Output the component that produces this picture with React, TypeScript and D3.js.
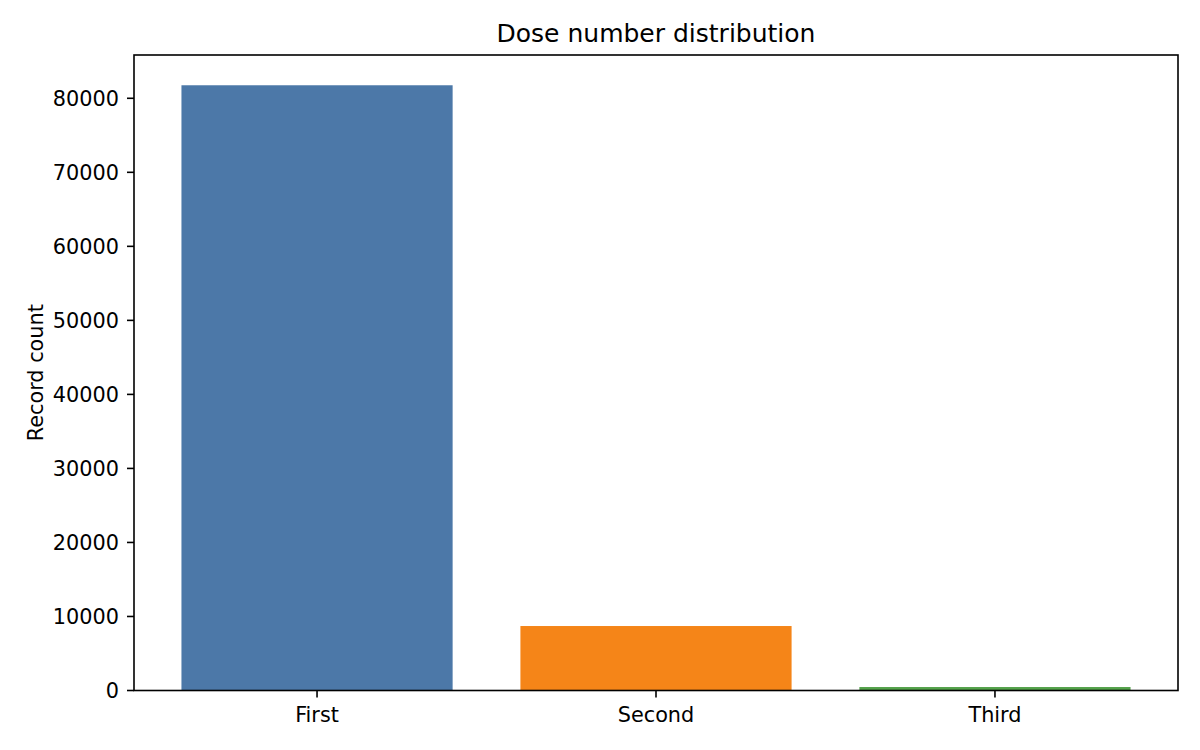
import React from "react";
import * as d3 from "d3";

const categories = ["First", "Second", "Third"];
const counts = [81760, 8710, 470];
const colors = ["#4c78a8", "#f58518", "#54a24b"];
const yTicks = [0, 10000, 20000, 30000, 40000, 50000, 60000, 70000, 80000];

export default function App() {
  const W = 1200, H = 750;
  const left = 134, right = 1178, top = 55, bottom = 690.5;
  const x = d3.scaleBand<string>().domain(categories).range([left, right]).paddingInner(0.2).paddingOuter(0.14);
  const yMax = (d3.max(counts) as number) * 1.05;
  const y = d3.scaleLinear().domain([0, yMax]).range([bottom, top]);
  const font = "'DejaVu Sans', sans-serif";
  const sw = 1.6;
  return (
    <svg width={W} height={H} style={{ position: "absolute", left: 0, top: 0, background: "#fff" }} fontFamily={font}>
      <rect x={0} y={0} width={W} height={H} fill="#fff" />
      {categories.map((c, i) => (
        <rect key={c} x={x(c)} y={y(counts[i])} width={x.bandwidth()} height={bottom - y(counts[i])} fill={colors[i]} />
      ))}
      <rect x={left} y={top} width={right - left} height={bottom - top} fill="none" stroke="#000" strokeWidth={sw} />
      {yTicks.map((t) => (
        <g key={t}>
          <line x1={left - 7} x2={left} y1={y(t)} y2={y(t)} stroke="#000" strokeWidth={sw} />
          <text x={left - 15} y={y(t)} dy="0.36em" textAnchor="end" fontSize={20.8} fill="#000">{t}</text>
        </g>
      ))}
      {categories.map((c) => {
        const cx = (x(c) as number) + x.bandwidth() / 2;
        return (
          <g key={c}>
            <line x1={cx} x2={cx} y1={bottom} y2={bottom + 7} stroke="#000" strokeWidth={sw} />
            <text x={cx} y={722} textAnchor="middle" fontSize={20.8} fill="#000">{c}</text>
          </g>
        );
      })}
      <text transform={`translate(35,${(top + bottom) / 2}) rotate(-90)`} textAnchor="middle" dy="0.36em" fontSize={20.8} fill="#000">Record count</text>
      <text x={(left + right) / 2} y={42} textAnchor="middle" fontSize={25} fill="#000">Dose number distribution</text>
    </svg>
  );
}
